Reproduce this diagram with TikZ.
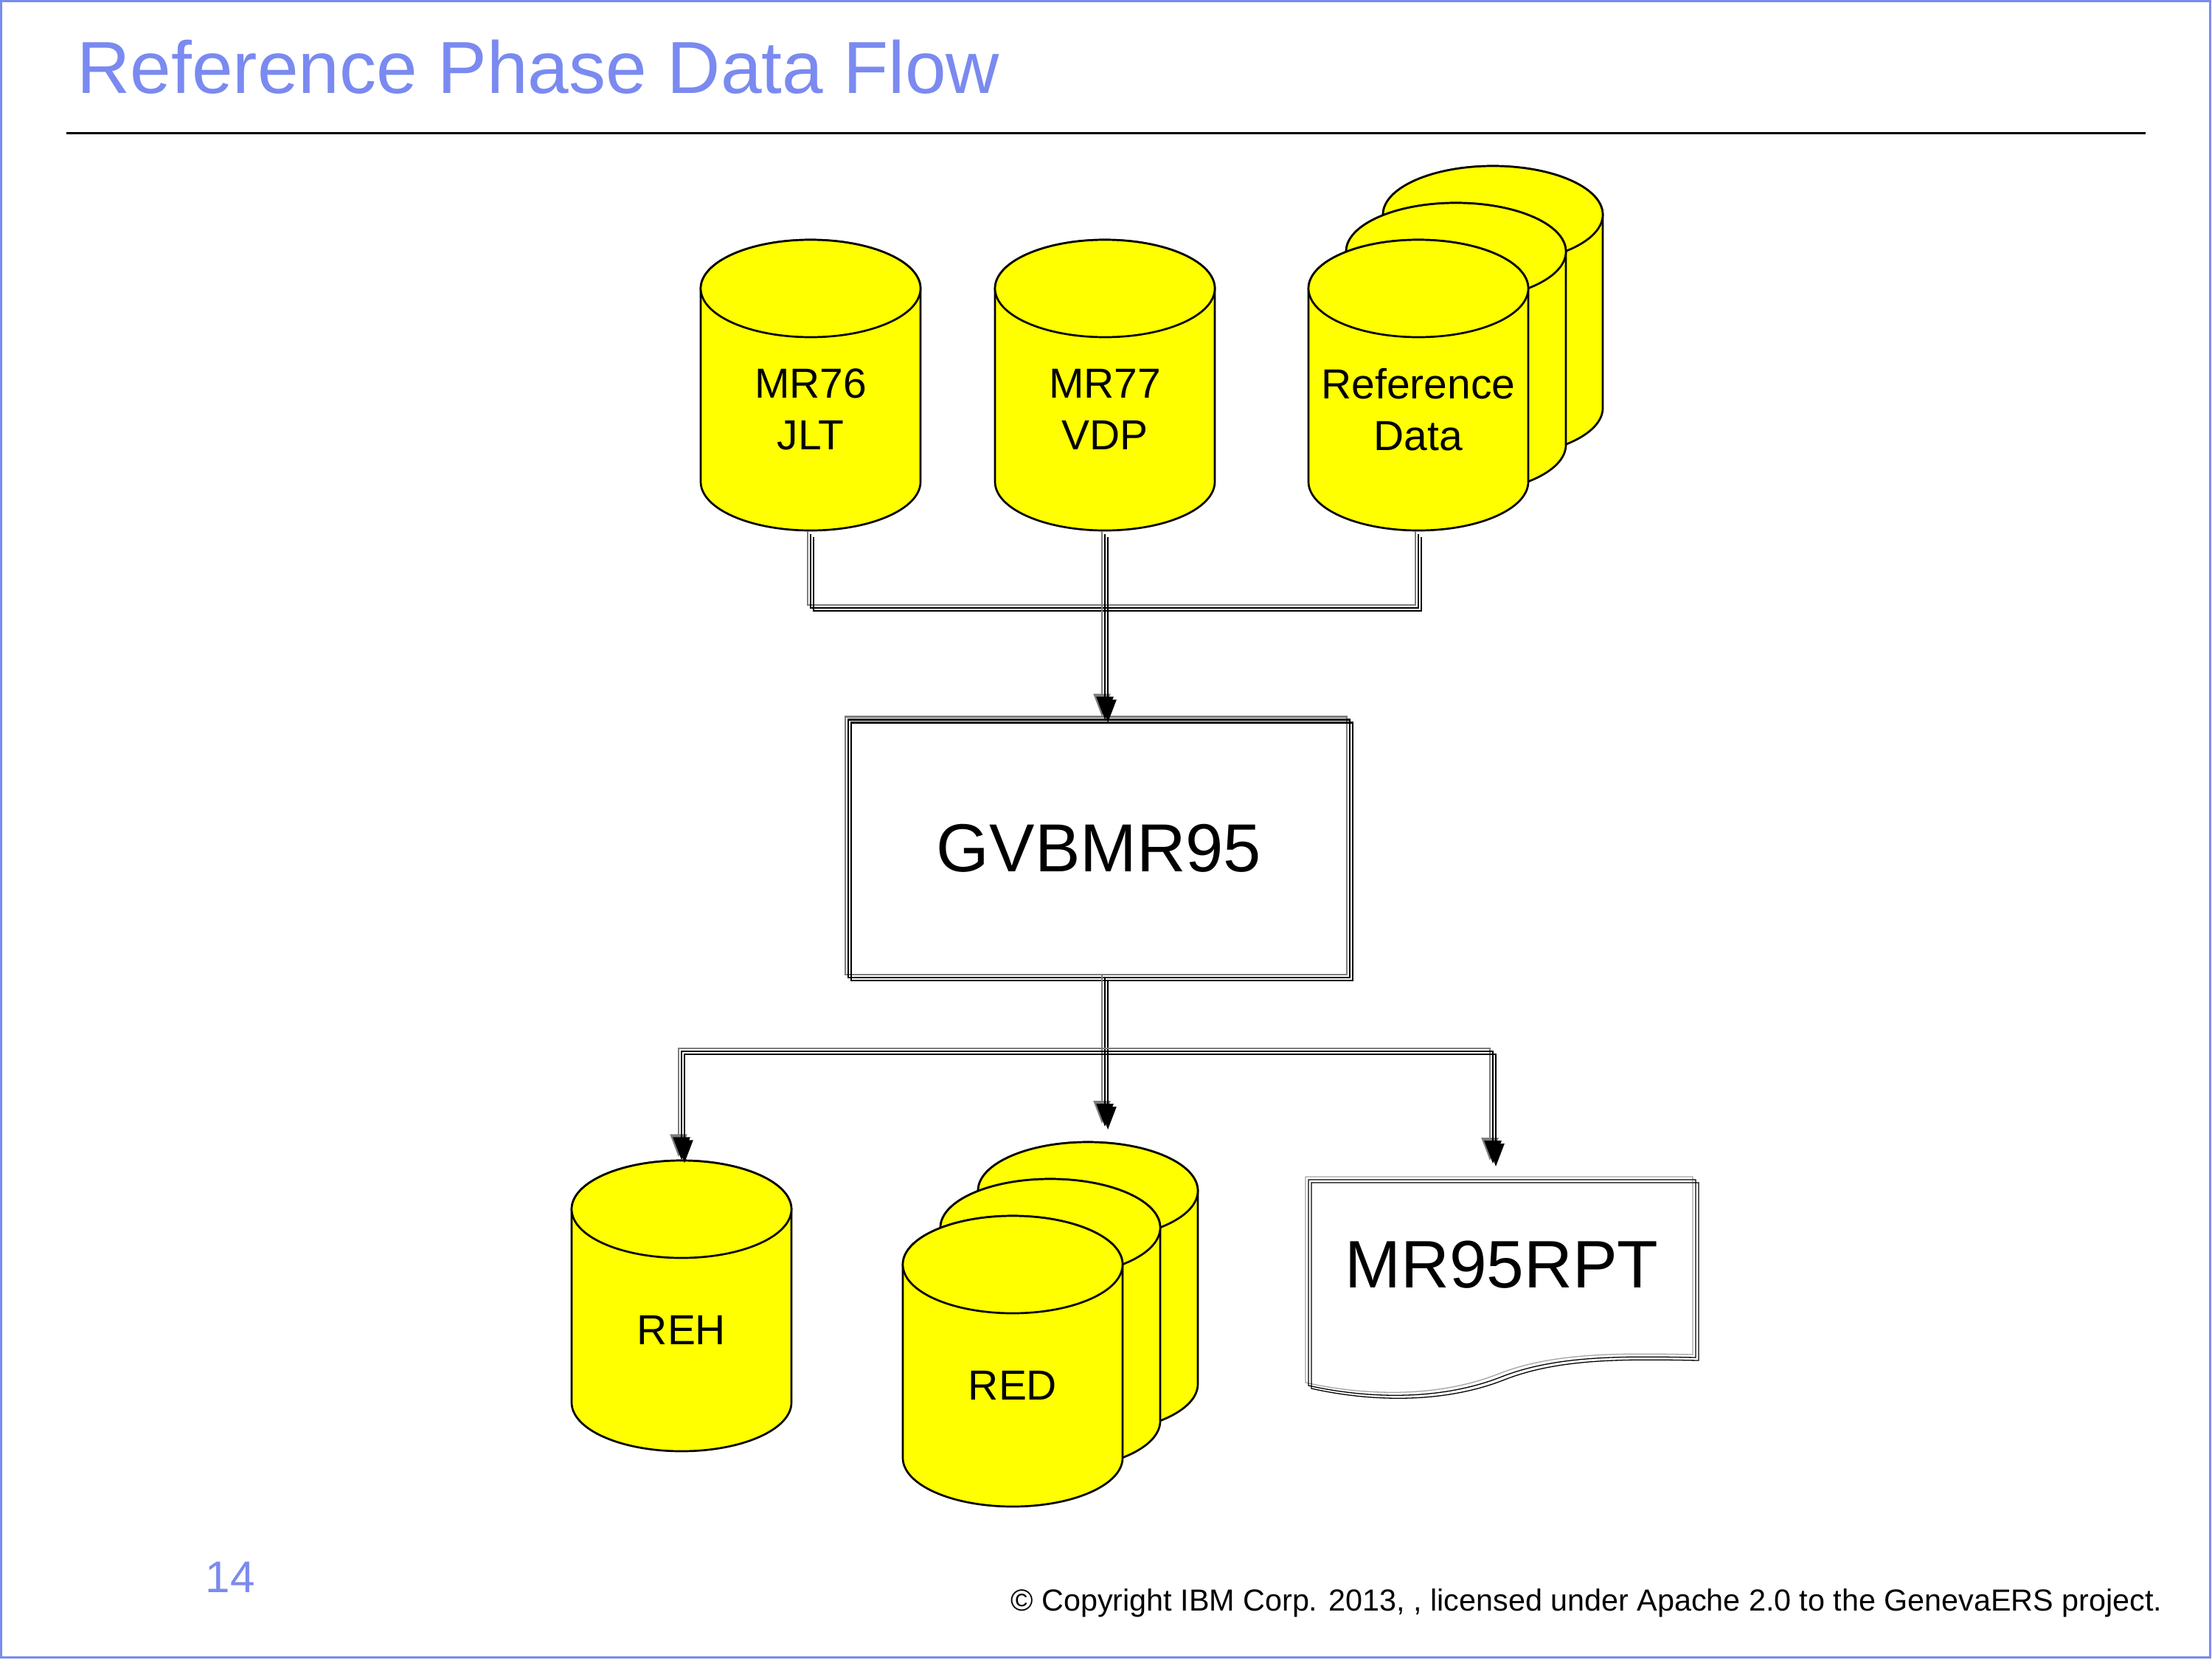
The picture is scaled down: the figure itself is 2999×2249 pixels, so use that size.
\documentclass[tikz,border=0pt]{standalone}
\usepackage{graphicx}
\usepackage{fontspec}
\setmainfont{Liberation Sans}
\usetikzlibrary{arrows.meta}
\definecolor{ibmblue}{RGB}{122,138,240}
\definecolor{dbyellow}{RGB}{255,255,0}
\definecolor{shadowgray}{RGB}{125,125,125}

% three offset copies of a path (grey up-left, black, black down-right)
\newcommand\tripath[2][]{%
  \draw[conn,draw=shadowgray,#1,transform canvas={xshift=-0.4mm,yshift=0.4mm}] #2;
  \draw[conn,#1] #2;
  \draw[conn,#1,transform canvas={xshift=0.4mm,yshift=-0.4mm}] #2;}

% database cylinder: centre x, top y, node name
\newcommand\dbcyl[3]{%
  \pgfmathsetmacro\cyL{#1-149}%
  \pgfmathsetmacro\cyR{#1+149}%
  \pgfmathsetmacro\cyA{#2+66}%
  \pgfmathsetmacro\cyB{#2+328}%
  \filldraw[cyl] (\cyL,\cyA) -- (\cyL,\cyB)
    arc[start angle=180,end angle=360,x radius=14.9mm,y radius=6.6mm]
    -- (\cyR,\cyA)
    arc[start angle=0,end angle=180,x radius=14.9mm,y radius=6.6mm] -- cycle;
  \draw[cyl] (#1,\cyA) ellipse[x radius=14.9mm,y radius=6.6mm];
  \node[cylbox] (#3) at (#1,#2+197) {};
}

\begin{document}
\begin{tikzpicture}[x=0.1mm,y=-0.1mm,
  cyl/.style={draw=black,line width=0.27mm,fill=dbyellow},
  cylbox/.style={rectangle,inner sep=0pt,minimum width=29.8mm,minimum height=39.4mm},
  cyltext/.style={align=center,inner sep=0pt,font=\fontsize{16.2pt}{19.9pt}\selectfont},
  conn/.style={line width=0.24mm,draw=black},
  arrowend/.style={-{Triangle[length=3.1mm,width=2.3mm]}},
  doc/.style={line width=0.13mm},
  bigtext/.style={inner sep=0pt,font=\fontsize{26.2pt}{30pt}\selectfont}]

\useasboundingbox[fill=white] (0,0) rectangle (2999,2249);
\draw[ibmblue,line width=0.3mm] (1.5,1.5) rectangle (2996,2246);

% title and rule
\node[anchor=base west,inner sep=0pt,text=ibmblue,font=\fontsize{28.45pt}{34pt}\selectfont] (title) at (104,126) {Reference Phase Data Flow};
\draw[line width=0.3mm] (90,180) -- (2909,180);

% input data sets
\dbcyl{1099}{325}{mr76}
\dbcyl{1498}{325}{mr77}
\dbcyl{2024}{225}{refd3}
\dbcyl{1974}{275}{refd2}
\dbcyl{1923}{325}{refd}
\node[cyltext] (t76) at (1099,555) {MR76\\JLT};
\node[cyltext] (t77) at (1498,555) {MR77\\VDP};
\node[cyltext] (tref) at (1923,555) {Reference\\Data};

% program box
\node[bigtext,minimum width=67.9mm,minimum height=34.8mm] (gv) at (1490,1150) {GVBMR95};
\tripath{(gv.north west) rectangle (gv.south east)}

% outputs
\dbcyl{924}{1573}{reh}
\node[cyltext] (treh) at (924,1803) {REH};
\dbcyl{1475}{1548}{red3}
\dbcyl{1424}{1598}{red2}
\dbcyl{1373}{1648}{red}
\node[cyltext] (tred) at (1373,1878) {RED};

\node[inner sep=0pt,minimum width=52.5mm,minimum height=27.9mm,font=\fontsize{25.9pt}{30pt}\selectfont] (rpt) at (2036,1714) {MR95RPT};
\draw[doc,draw=shadowgray!70,transform canvas={xshift=-0.4mm,yshift=0.4mm}]
  (1774,1599) -- (2299,1599) -- (2299,1840) .. controls (2200,1838) and (2110,1837) .. (2036,1866)
  .. controls (1950,1900) and (1850,1895) .. (1774,1878) -- cycle;
\draw[doc]
  (1774,1599) -- (2299,1599) -- (2299,1840) .. controls (2200,1838) and (2110,1837) .. (2036,1866)
  .. controls (1950,1900) and (1850,1895) .. (1774,1878) -- cycle;
\draw[doc,transform canvas={xshift=0.4mm,yshift=-0.4mm}]
  (1774,1599) -- (2299,1599) -- (2299,1840) .. controls (2200,1838) and (2110,1837) .. (2036,1866)
  .. controls (1950,1900) and (1850,1895) .. (1774,1878) -- cycle;

% connector junctions and free ends
\coordinate (jtop) at (1498,824);
\coordinate (jbot) at (1498,1425);
\coordinate (redin) at (1498,1527);
\coordinate (rptin) at (2024,1577);

% connectors
\tripath[shorten <=0.4mm,shorten >=0.4mm]{(mr76.south) |- (jtop) -| (refd.south)}
\tripath[arrowend,shorten <=0.4mm]{(mr77.south) -- (mr77.south |- gv.north)}
\tripath[arrowend]{(mr77.south |- gv.south) -- (redin)}
\tripath[arrowend]{(jbot) -| (reh.north)}
\tripath[arrowend]{(jbot) -| (rptin)}

% footer
\node[anchor=base west,inner sep=0pt,text=ibmblue,font=\fontsize{17.1pt}{20pt}\selectfont] (page) at (278,2158) {14};
\node[anchor=base east,inner sep=0pt,font=\fontsize{11.75pt}{14pt}\selectfont] (copy) at (2932,2183)
  {© Copyright IBM Corp. 2013, , licensed under Apache 2.0 to the GenevaERS project.};
\end{tikzpicture}
\end{document}
